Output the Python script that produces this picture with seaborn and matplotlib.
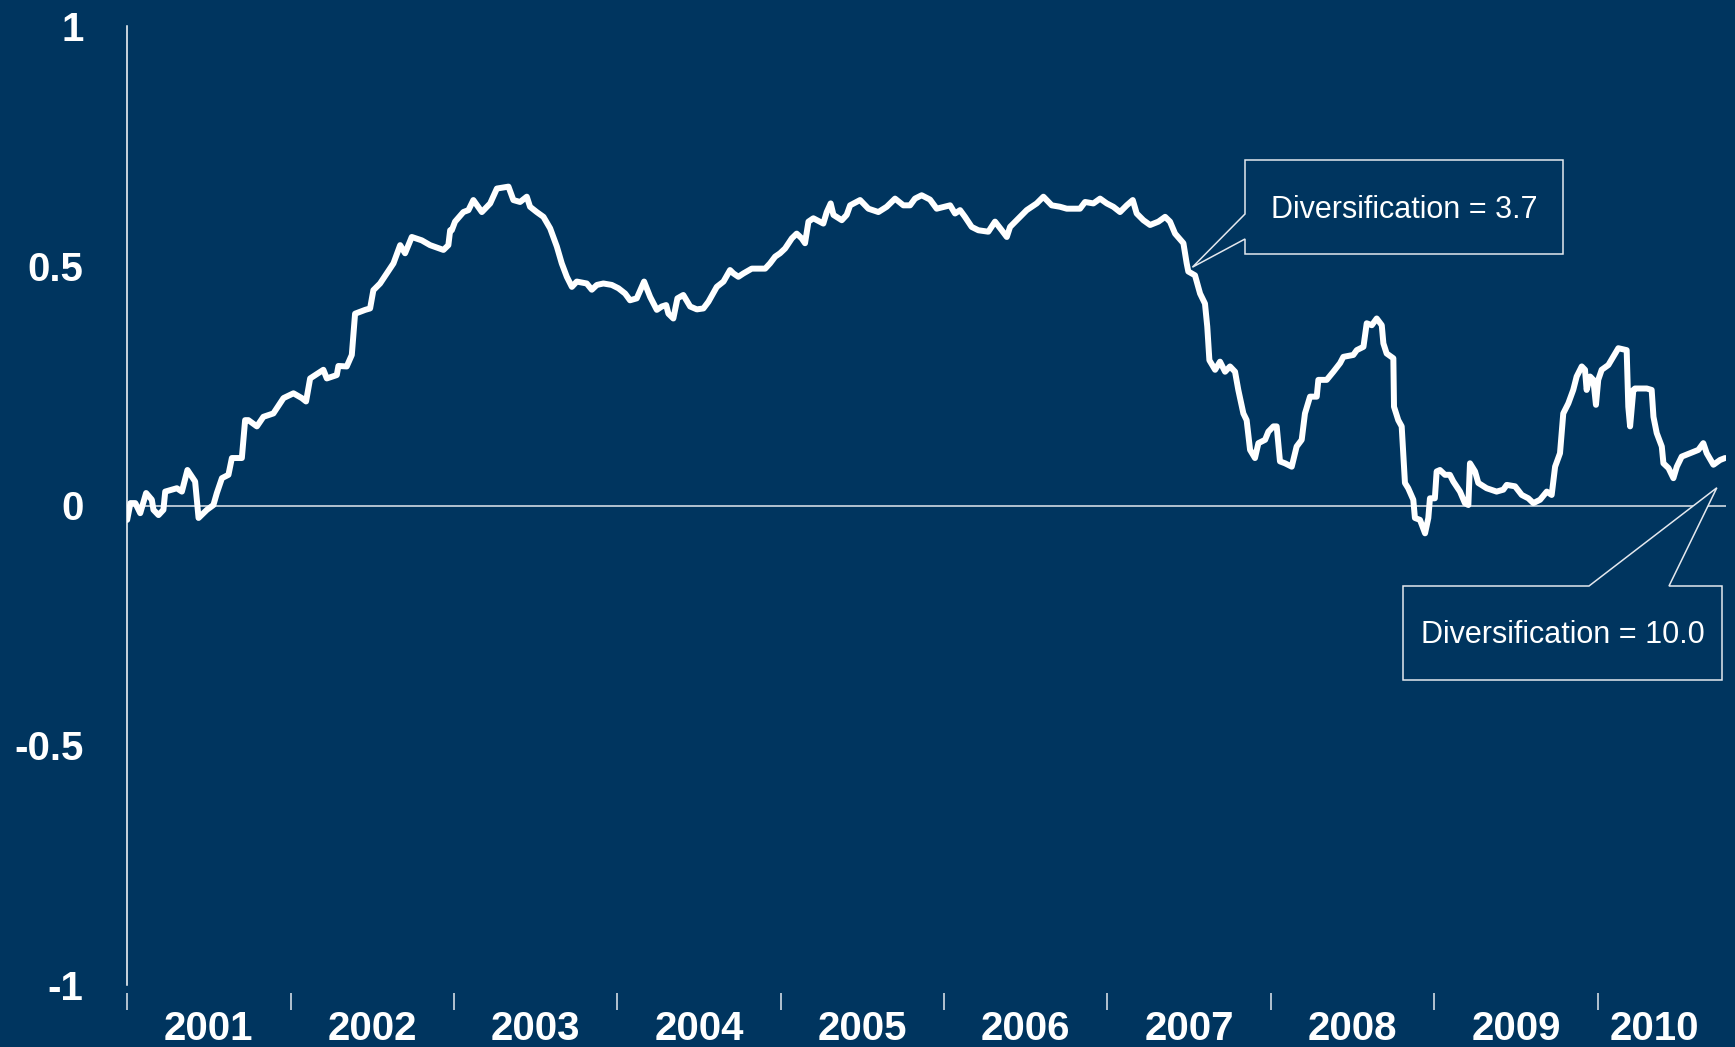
import numpy as np
import pandas as pd
import matplotlib
matplotlib.use("Agg")
import matplotlib.pyplot as plt
from matplotlib.patches import Polygon
import seaborn as sns

# rolling correlation (decimal years)
years = [
    2001.000, 2001.020, 2001.050, 2001.080, 2001.116, 2001.151, 2001.161, 2001.192, 2001.222, 2001.233,
    2001.304, 2001.335, 2001.369, 2001.416, 2001.437, 2001.488, 2001.528, 2001.549, 2001.580, 2001.620,
    2001.641, 2001.702, 2001.722, 2001.742, 2001.794, 2001.834, 2001.895, 2001.957, 2002.018, 2002.069,
    2002.095, 2002.120, 2002.201, 2002.222, 2002.283, 2002.293, 2002.344, 2002.375, 2002.395, 2002.457,
    2002.487, 2002.507, 2002.548, 2002.589, 2002.630, 2002.671, 2002.701, 2002.742, 2002.803, 2002.854,
    2002.936, 2002.966, 2002.977,
    2002.987, 2003.007, 2003.058, 2003.089, 2003.119, 2003.171, 2003.222, 2003.263, 2003.334, 2003.364,
    2003.405, 2003.446, 2003.466, 2003.507, 2003.548, 2003.589, 2003.630, 2003.660, 2003.691, 2003.722,
    2003.752, 2003.813, 2003.844, 2003.875, 2003.915, 2003.966, 2004.007, 2004.048, 2004.078, 2004.119,
    2004.164, 2004.201, 2004.242, 2004.272, 2004.299, 2004.313, 2004.343, 2004.368, 2004.404, 2004.446,
    2004.487, 2004.527, 2004.558, 2004.609, 2004.650, 2004.690, 2004.711, 2004.741, 2004.772, 2004.823,
    2004.905, 2004.935, 2004.966, 2004.996,
    2005.027, 2005.068, 2005.098, 2005.129, 2005.149, 2005.170, 2005.200, 2005.261, 2005.282, 2005.306,
    2005.323, 2005.374, 2005.404, 2005.425, 2005.486, 2005.537, 2005.598, 2005.649, 2005.700, 2005.751,
    2005.792, 2005.822, 2005.863, 2005.914, 2005.955, 2006.037, 2006.067, 2006.098, 2006.128, 2006.169,
    2006.210, 2006.271, 2006.312, 2006.353, 2006.384, 2006.404, 2006.445, 2006.506, 2006.567, 2006.608,
    2006.659, 2006.710, 2006.751, 2006.832, 2006.863, 2006.914, 2006.955, 2006.996,
    2007.036, 2007.077, 2007.118, 2007.155, 2007.179, 2007.220, 2007.261, 2007.312, 2007.353, 2007.383,
    2007.414, 2007.465, 2007.485, 2007.495, 2007.536, 2007.567, 2007.597, 2007.611, 2007.624, 2007.659,
    2007.689, 2007.720, 2007.750, 2007.781, 2007.801, 2007.832, 2007.852, 2007.873, 2007.903, 2007.924,
    2007.965, 2007.985, 2008.016, 2008.036, 2008.056, 2008.087, 2008.128, 2008.158, 2008.189, 2008.209,
    2008.240, 2008.281, 2008.291, 2008.342, 2008.383, 2008.424, 2008.444, 2008.505, 2008.526, 2008.567,
    2008.587, 2008.618, 2008.648, 2008.679, 2008.689, 2008.709, 2008.750, 2008.754, 2008.780, 2008.801,
    2008.821, 2008.841, 2008.872, 2008.882, 2008.913, 2008.944,
    2008.964, 2008.974, 2009.004, 2009.015, 2009.035, 2009.066, 2009.096, 2009.117, 2009.158, 2009.188,
    2009.209, 2009.219, 2009.250, 2009.270, 2009.321, 2009.382, 2009.423, 2009.444, 2009.495, 2009.536,
    2009.576, 2009.607, 2009.648, 2009.689, 2009.719, 2009.740, 2009.770, 2009.780, 2009.790, 2009.821,
    2009.851, 2009.872, 2009.903, 2009.923, 2009.933, 2009.954, 2009.974, 2009.990, 2010.004, 2010.025,
    2010.066, 2010.096, 2010.127, 2010.178, 2010.188, 2010.199, 2010.219, 2010.229, 2010.301, 2010.331,
    2010.342, 2010.362, 2010.393, 2010.403, 2010.434, 2010.464, 2010.485, 2010.515, 2010.566, 2010.617,
    2010.647, 2010.668, 2010.709, 2010.750, 2010.780,
]
corr = [
    -0.030, 0.005, 0.005, -0.016, 0.026, 0.012, -0.009, -0.020, -0.009, 0.029,
    0.036, 0.029, 0.074, 0.050, -0.026, -0.009, 0.001, 0.026, 0.057, 0.064,
    0.099, 0.099, 0.178, 0.178, 0.165, 0.185, 0.192, 0.224, 0.234, 0.224,
    0.217, 0.265, 0.283, 0.265, 0.272, 0.291, 0.290, 0.314, 0.400, 0.408,
    0.411, 0.449, 0.463, 0.484, 0.505, 0.543, 0.526, 0.560, 0.553, 0.543,
    0.533, 0.543, 0.574,
    0.574, 0.592, 0.612, 0.616, 0.637, 0.612, 0.630, 0.661, 0.665, 0.637,
    0.633, 0.644, 0.623, 0.612, 0.602, 0.578, 0.540, 0.505, 0.477, 0.456,
    0.467, 0.463, 0.450, 0.460, 0.463, 0.460, 0.453, 0.442, 0.428, 0.432,
    0.467, 0.435, 0.408, 0.415, 0.418, 0.400, 0.390, 0.432, 0.439, 0.415,
    0.409, 0.411, 0.425, 0.456, 0.467, 0.491, 0.484, 0.477, 0.484, 0.494,
    0.494, 0.505, 0.519, 0.526,
    0.536, 0.557, 0.567, 0.557, 0.547, 0.592, 0.599, 0.588, 0.612, 0.630,
    0.606, 0.595, 0.606, 0.626, 0.637, 0.619, 0.612, 0.623, 0.640, 0.626,
    0.626, 0.640, 0.647, 0.638, 0.619, 0.626, 0.609, 0.616, 0.602, 0.581,
    0.574, 0.571, 0.592, 0.574, 0.560, 0.581, 0.595, 0.616, 0.630, 0.644,
    0.626, 0.623, 0.619, 0.619, 0.633, 0.630, 0.640, 0.630,
    0.623, 0.612, 0.626, 0.637, 0.609, 0.595, 0.585, 0.592, 0.602, 0.592,
    0.567, 0.547, 0.505, 0.488, 0.480, 0.442, 0.421, 0.373, 0.303, 0.283,
    0.300, 0.279, 0.290, 0.279, 0.241, 0.192, 0.178, 0.116, 0.099, 0.130,
    0.137, 0.154, 0.165, 0.165, 0.092, 0.088, 0.081, 0.123, 0.137, 0.192,
    0.227, 0.227, 0.262, 0.262, 0.279, 0.297, 0.310, 0.314, 0.324, 0.331,
    0.380, 0.376, 0.390, 0.376, 0.338, 0.317, 0.307, 0.206, 0.178, 0.165,
    0.047, 0.036, 0.012, -0.026, -0.030, -0.058,
    -0.026, 0.015, 0.015, 0.071, 0.074, 0.064, 0.064, 0.050, 0.029, 0.005,
    0.001, 0.088, 0.071, 0.047, 0.036, 0.029, 0.033, 0.043, 0.040, 0.022,
    0.015, 0.005, 0.012, 0.029, 0.022, 0.081, 0.109, 0.151, 0.192, 0.213,
    0.241, 0.269, 0.290, 0.283, 0.241, 0.269, 0.262, 0.210, 0.262, 0.283,
    0.293, 0.310, 0.328, 0.324, 0.206, 0.165, 0.241, 0.244, 0.244, 0.241,
    0.185, 0.151, 0.123, 0.088, 0.078, 0.057, 0.081, 0.102, 0.109, 0.116,
    0.130, 0.109, 0.085, 0.095, 0.099,
]

year_ticks = list(range(2001, 2011))
year_labels = [str(y) for y in year_ticks]
year_label_pos = [y + 0.5 for y in year_ticks[:-1]] + [2010.35]
y_ticks = [1, 0.5, 0, -0.5, -1]
y_labels = ["1", "0.5", "0", "-0.5", "-1"]

notes = ["Diversification = 3.7", "Diversification = 10.0"]
note_points = [(2007.52, 0.497), (2010.73, 0.037)]

BG = "#00355f"
EDGE = "#e4e8ee"
W, H = 1735, 1047

sns.set_theme(style="white", rc={"axes.facecolor": BG, "figure.facecolor": BG})
plt.rcParams["font.family"] = ["Liberation Sans", "DejaVu Sans"]

df = pd.DataFrame({"year": years, "corr": corr})

fig = plt.figure(figsize=(W / 100, H / 100), dpi=100)
ax = fig.add_axes([126.5 / W, 1 - 985 / H, (1726 - 126.5) / W, (985 - 26) / H])

sns.lineplot(data=df, x="year", y="corr", ax=ax, color="white", lw=4.3,
             estimator=None, sort=False, solid_joinstyle="round", solid_capstyle="round", zorder=3)
ax.axhline(0, color=EDGE, lw=1.1, zorder=2)

ax.set_xlim(2001 - 0.004, 2010.786)
ax.set_ylim(-1, 1)
ax.set_xlabel("")
ax.set_ylabel("")

for s in ["top", "right", "bottom"]:
    ax.spines[s].set_visible(False)
ax.spines["left"].set_color("white")
ax.spines["left"].set_linewidth(1.1)
ax.spines["bottom"].set_position(("outward", 6))

ax.set_yticks(y_ticks)
ax.set_yticklabels(y_labels)
ax.tick_params(axis="y", which="major", direction="out", length=10, width=1.1,
               color="white", pad=21, labelsize=29, labelcolor="white")
for t in ax.get_yticklabels():
    t.set_fontweight("bold")

ax.set_xticks(year_ticks)
ax.set_xticklabels([])
ax.set_xticks(year_label_pos, minor=True)
ax.set_xticklabels(year_labels, minor=True)
ax.tick_params(axis="x", which="major", direction="out", length=12, width=1.1,
               color=EDGE, bottom=True)
ax.tick_params(axis="x", which="minor", length=0, pad=12, labelsize=29,
               labelcolor="white", bottom=True)
for t in ax.get_xticklabels(minor=True):
    t.set_fontweight("bold")


def px(x, y):
    return (x / W, 1 - y / H)


def tip_of(xy):
    return fig.transFigure.inverted().transform(ax.transData.transform(xy))


# callout 1: wedge from the left side of the box
tip1 = tip_of(note_points[0])
box1 = [px(1245, 160), px(1563, 160), px(1563, 254), px(1245, 254),
        px(1245, 239), tuple(tip1), px(1245, 214)]
# callout 2: wedge from the top of the box
tip2 = tip_of(note_points[1])
box2 = [px(1403, 586), px(1589, 586), tuple(tip2), px(1669, 586),
        px(1722, 586), px(1722, 680), px(1403, 680)]

for pts in (box1, box2):
    fig.add_artist(Polygon(pts, closed=True, transform=fig.transFigure,
                           facecolor=BG, edgecolor=EDGE, lw=1.1, zorder=5))

fig.text(*px(1404, 218), notes[0], ha="center", va="baseline", fontsize=22,
         color="white", zorder=6)
fig.text(*px(1562.5, 643), notes[1], ha="center", va="baseline", fontsize=22,
         color="white", zorder=6)

fig.savefig("out.png", dpi=100, facecolor=BG)
